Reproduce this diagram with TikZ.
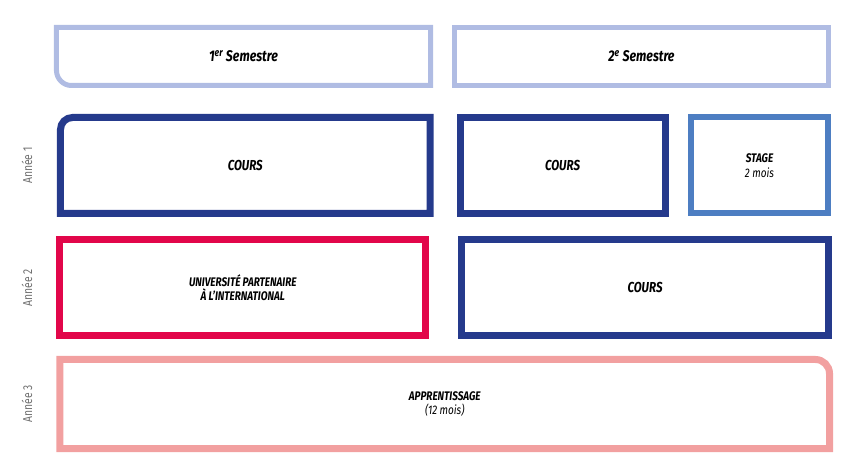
\documentclass[tikz,border=0pt]{standalone}
\usepackage{fontspec}
\setmainfont{Fira Sans}
\newfontfamily\condensed[FakeStretch=0.8]{Fira Sans}
\usetikzlibrary{positioning}
\definecolor{semesterBlue}{HTML}{B0BCE3}
\definecolor{coursNavy}{HTML}{253A8C}
\definecolor{stageBlue}{HTML}{4D7EC2}
\definecolor{partnerRed}{HTML}{E2064A}
\definecolor{apprPink}{HTML}{F2A0A0}
\definecolor{yearGray}{HTML}{707070}

\begin{document}
\begin{tikzpicture}[
    x=1bp, y=-1bp,
    box/.style={rectangle, inner sep=0pt, outer sep=0pt, align=center,
                font=\condensed\bfseries\itshape\fontsize{14.5}{16}\selectfont},
    smallbox/.style={box, font=\condensed\bfseries\itshape\fontsize{12.5}{14.5}\selectfont},
    semester/.style={box, minimum width=374bp, minimum height=58bp,
                     font=\condensed\bfseries\itshape\fontsize{15.5}{17}\selectfont},
    semline/.style={draw=semesterBlue, line width=5bp},
    cours/.style={box, minimum height=96bp, draw=coursNavy, line width=7bp},
    coursline/.style={draw=coursNavy, line width=7bp},
    stagebox/.style={smallbox, minimum height=96bp, draw=stageBlue, line width=6bp},
    partner/.style={smallbox, minimum height=96bp, draw=partnerRed, line width=7bp},
    apprline/.style={draw=apprPink, line width=7bp},
    year/.style={rotate=90, text=yearGray, font=\condensed\fontsize{13}{14}\selectfont}
]
\useasboundingbox (0,0) rectangle (856,473);

% semesters
\node[semester] (sem1) at (243.5,56.5) {1\textsuperscript{er} Semestre};
\node[semester, semline, right=24bp of sem1] (sem2) {2\textsuperscript{e} Semestre};
\draw[semline] (sem1.south) [rounded corners=15bp] -| (sem1.west) [sharp corners]
    |- (sem1.north) -| (sem1.east) |- (sem1.south) -- cycle;

% year 1
\node[year] (an1) at (27,165.5) {Année 1};
\node[box, minimum width=369.5bp, minimum height=96bp] (cours1a) at (245.25,165.5) {COURS};
\draw[coursline] (cours1a.north) [rounded corners=12bp] -| (cours1a.west) [sharp corners]
    |- (cours1a.south) -| (cours1a.east) |- (cours1a.north) -- cycle;
\node[cours, minimum width=205bp, right=30bp of cours1a] (cours1b) {COURS};
\node[stagebox, minimum width=137bp, right=26bp of cours1b] (stage) {STAGE\\{\mdseries 2 mois}};

% year 2
\node[year] (an2) at (27,287.5) {Année 2};
\node[partner, minimum width=365.5bp] (univ) at (242.75,287.5) {UNIVERSITÉ PARTENAIRE\\À L’INTERNATIONAL};
\node[cours, minimum width=367bp, right=36bp of univ] (cours2) {COURS};

% year 3
\node[year] (an3) at (27,404) {Année 3};
\node[smallbox, minimum width=769.5bp, minimum height=89bp] (appr) at (444.75,404) {APPRENTISSAGE\\{\mdseries (12 mois)}};
\draw[apprline] (appr.north) [rounded corners=14bp] -| (appr.east) [sharp corners]
    |- (appr.south) -| (appr.west) |- (appr.north) -- cycle;

\end{tikzpicture}
\end{document}
